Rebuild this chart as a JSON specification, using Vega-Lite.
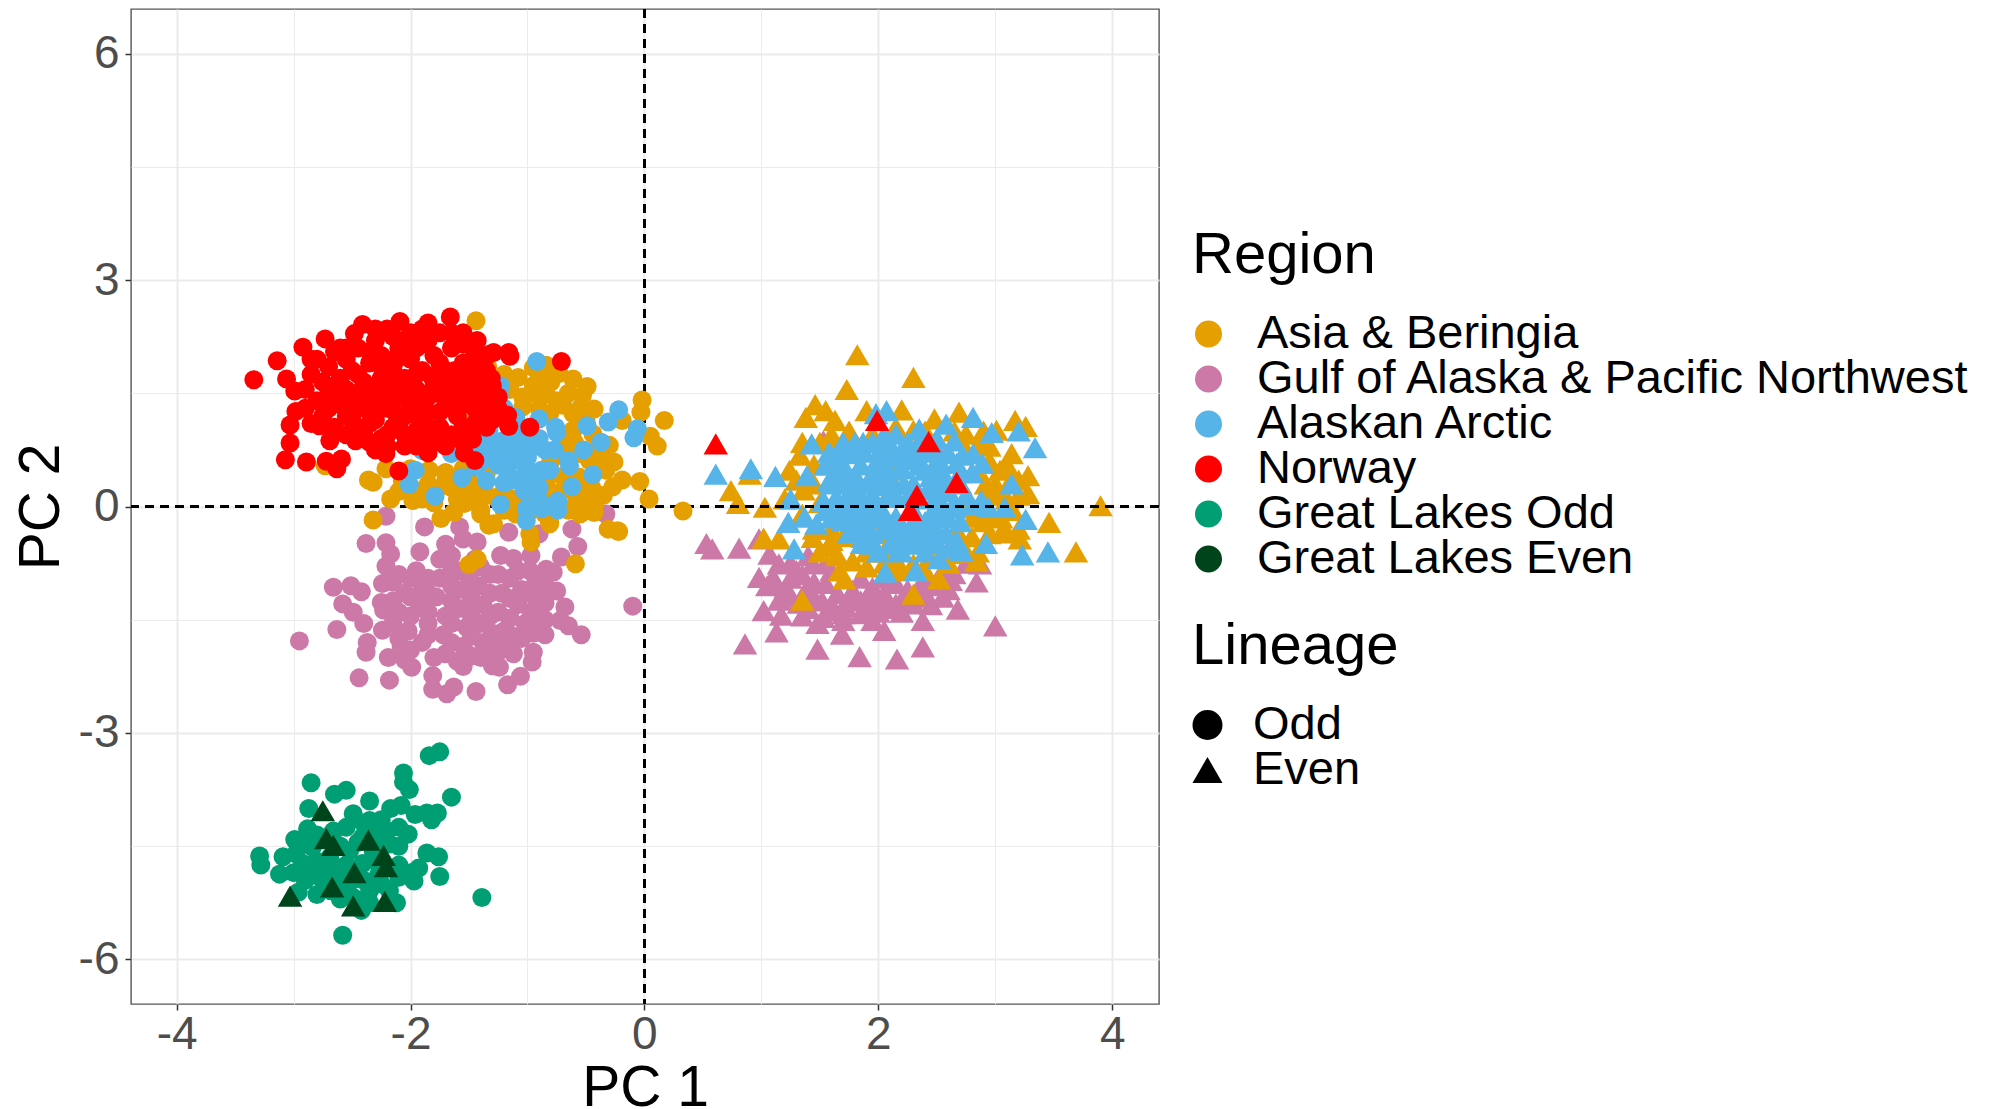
{"$schema":"https://vega.github.io/schema/vega-lite/v6.json","width":1028,"height":995,"autosize":{"type":"none"},"padding":{"left":131,"top":9,"right":831,"bottom":105},"background":"white","config":{"view":{"stroke":"#555555","strokeWidth":1.4},"font":"Liberation Sans"},
"data":{"values":[
{"x":0.53,"y":-0.49,"r":"G","l":"E"},{"x":0.58,"y":-0.56,"r":"G","l":"E"},{"x":0.81,"y":-0.55,"r":"G","l":"E"},{"x":0.98,"y":-0.43,"r":"G","l":"E"},{"x":0.86,"y":-1.82,"r":"G","l":"E"},{"x":1.13,"y":-1.66,"r":"G","l":"E"},{"x":1.02,"y":-1.38,"r":"G","l":"E"},{"x":1.17,"y":-1.44,"r":"G","l":"E"},{"x":1.48,"y":-1.89,"r":"G","l":"E"},{"x":1.48,"y":-1.55,"r":"G","l":"E"},{"x":1.69,"y":-1.69,"r":"G","l":"E"},{"x":1.84,"y":-1.99,"r":"G","l":"E"},{"x":2.16,"y":-2.02,"r":"G","l":"E"},{"x":2.38,"y":-1.86,"r":"G","l":"E"},{"x":2.05,"y":-1.64,"r":"G","l":"E"},{"x":2.38,"y":-1.51,"r":"G","l":"E"},{"x":2.68,"y":-1.36,"r":"G","l":"E"},{"x":3.0,"y":-1.58,"r":"G","l":"E"},{"x":2.84,"y":-1.0,"r":"G","l":"E"},{"x":2.65,"y":-0.89,"r":"G","l":"E"},{"x":2.42,"y":-1.2,"r":"G","l":"E"},{"x":0.98,"y":-0.94,"r":"G","l":"E"},{"x":1.1,"y":-0.94,"r":"G","l":"E"},{"x":1.07,"y":-0.63,"r":"G","l":"E"},{"x":1.21,"y":-1.07,"r":"G","l":"E"},{"x":1.15,"y":-1.24,"r":"G","l":"E"},{"x":1.53,"y":-1.47,"r":"G","l":"E"},{"x":1.58,"y":-1.38,"r":"G","l":"E"},{"x":1.72,"y":-1.33,"r":"G","l":"E"},{"x":1.9,"y":-1.38,"r":"G","l":"E"},{"x":2.01,"y":-1.24,"r":"G","l":"E"},{"x":2.15,"y":-1.29,"r":"G","l":"E"},{"x":2.3,"y":-1.29,"r":"G","l":"E"},{"x":1.44,"y":-0.76,"r":"G","l":"E"},{"x":1.3,"y":-0.85,"r":"G","l":"E"},{"x":1.55,"y":-1.02,"r":"G","l":"E"},{"x":1.78,"y":-1.11,"r":"G","l":"E"},{"x":1.95,"y":-1.07,"r":"G","l":"E"},{"x":2.15,"y":-1.02,"r":"G","l":"E"},{"x":2.38,"y":-0.98,"r":"G","l":"E"},{"x":1.53,"y":0.87,"r":"G","l":"E"},{"x":2.47,"y":0.83,"r":"G","l":"E"},{"x":2.87,"y":-0.76,"r":"G","l":"E"},{"x":1.95,"y":-1.51,"r":"G","l":"E"},{"x":1.7,"y":-1.51,"r":"G","l":"E"},{"x":1.38,"y":-1.11,"r":"G","l":"E"},{"x":1.15,"y":-0.76,"r":"G","l":"E"},
{"x":1.25,"y":-0.95,"r":"G","l":"E"},{"x":1.35,"y":-0.9,"r":"G","l":"E"},{"x":1.45,"y":-1.0,"r":"G","l":"E"},{"x":1.6,"y":-0.85,"r":"G","l":"E"},{"x":1.65,"y":-1.15,"r":"G","l":"E"},{"x":1.85,"y":-0.95,"r":"G","l":"E"},{"x":1.85,"y":-1.25,"r":"G","l":"E"},{"x":2.05,"y":-0.95,"r":"G","l":"E"},{"x":2.05,"y":-1.15,"r":"G","l":"E"},{"x":2.25,"y":-1.1,"r":"G","l":"E"},{"x":2.45,"y":-1.05,"r":"G","l":"E"},{"x":2.55,"y":-0.85,"r":"G","l":"E"},{"x":1.05,"y":-1.05,"r":"G","l":"E"},{"x":1.25,"y":-1.2,"r":"G","l":"E"},{"x":1.45,"y":-1.2,"r":"G","l":"E"},{"x":1.6,"y":-1.3,"r":"G","l":"E"},{"x":1.75,"y":-1.2,"r":"G","l":"E"},{"x":1.9,"y":-1.2,"r":"G","l":"E"},{"x":2.1,"y":-1.35,"r":"G","l":"E"},{"x":2.25,"y":-1.2,"r":"G","l":"E"},{"x":2.45,"y":-1.3,"r":"G","l":"E"},{"x":1.4,"y":-1.35,"r":"G","l":"E"},{"x":1.25,"y":-0.75,"r":"G","l":"E"},{"x":1.4,"y":-0.65,"r":"G","l":"E"},{"x":1.55,"y":-0.75,"r":"G","l":"E"},{"x":1.7,"y":-1.42,"r":"G","l":"E"},{"x":1.85,"y":-1.42,"r":"G","l":"E"},{"x":2.0,"y":-1.4,"r":"G","l":"E"},{"x":2.2,"y":-1.4,"r":"G","l":"E"},{"x":1.35,"y":-1.45,"r":"G","l":"E"},{"x":2.6,"y":-1.1,"r":"G","l":"E"},{"x":2.75,"y":-0.75,"r":"G","l":"E"},{"x":2.55,"y":-1.2,"r":"G","l":"E"},{"x":1.32,"y":-1.28,"r":"G","l":"E"},{"x":1.52,"y":-1.25,"r":"G","l":"E"},{"x":1.12,"y":-1.02,"r":"G","l":"E"},{"x":1.95,"y":-1.3,"r":"G","l":"E"},{"x":2.35,"y":-1.12,"r":"G","l":"E"},{"x":2.62,"y":-0.98,"r":"G","l":"E"},
{"x":1.82,"y":2.01,"r":"A","l":"E"},{"x":2.3,"y":1.71,"r":"A","l":"E"},{"x":1.73,"y":1.55,"r":"A","l":"E"},{"x":1.46,"y":1.35,"r":"A","l":"E"},{"x":1.55,"y":1.27,"r":"A","l":"E"},{"x":1.38,"y":1.18,"r":"A","l":"E"},{"x":1.63,"y":1.14,"r":"A","l":"E"},{"x":1.9,"y":1.27,"r":"A","l":"E"},{"x":2.2,"y":1.28,"r":"A","l":"E"},{"x":2.48,"y":1.16,"r":"A","l":"E"},{"x":2.69,"y":1.25,"r":"A","l":"E"},{"x":3.17,"y":1.14,"r":"A","l":"E"},{"x":3.26,"y":1.06,"r":"A","l":"E"},{"x":3.14,"y":0.7,"r":"A","l":"E"},{"x":3.28,"y":0.41,"r":"A","l":"E"},{"x":3.28,"y":0.17,"r":"A","l":"E"},{"x":3.9,"y":0.01,"r":"A","l":"E"},{"x":3.46,"y":-0.21,"r":"A","l":"E"},{"x":3.69,"y":-0.6,"r":"A","l":"E"},{"x":3.21,"y":-0.43,"r":"A","l":"E"},{"x":0.74,"y":0.21,"r":"A","l":"E"},{"x":0.8,"y":0.04,"r":"A","l":"E"},{"x":1.03,"y":-0.01,"r":"A","l":"E"},{"x":1.02,"y":-0.42,"r":"A","l":"E"},{"x":1.33,"y":0.68,"r":"A","l":"E"},{"x":1.24,"y":0.48,"r":"A","l":"E"},{"x":1.15,"y":-0.43,"r":"A","l":"E"},{"x":1.35,"y":-1.24,"r":"A","l":"E"},{"x":2.3,"y":-1.16,"r":"A","l":"E"},{"x":1.71,"y":-0.96,"r":"A","l":"E"},{"x":1.67,"y":-0.85,"r":"A","l":"E"},{"x":2.52,"y":-0.96,"r":"A","l":"E"},{"x":2.84,"y":-0.72,"r":"A","l":"E"},{"x":2.95,"y":-0.36,"r":"A","l":"E"},{"x":3.09,"y":-0.32,"r":"A","l":"E"},{"x":2.81,"y":-0.14,"r":"A","l":"E"},{"x":2.92,"y":0.3,"r":"A","l":"E"},{"x":3.04,"y":0.48,"r":"A","l":"E"},{"x":2.87,"y":0.83,"r":"A","l":"E"},{"x":2.75,"y":0.96,"r":"A","l":"E"},{"x":2.13,"y":0.48,"r":"A","l":"E"},{"x":1.75,"y":0.87,"r":"A","l":"E"},{"x":1.64,"y":0.83,"r":"A","l":"E"},{"x":1.55,"y":0.57,"r":"A","l":"E"},{"x":1.44,"y":-0.41,"r":"A","l":"E"},{"x":1.58,"y":-0.54,"r":"A","l":"E"},{"x":1.78,"y":-0.72,"r":"A","l":"E"},{"x":2.01,"y":-0.36,"r":"A","l":"E"},{"x":2.18,"y":-0.85,"r":"A","l":"E"},{"x":2.44,"y":-0.67,"r":"A","l":"E"},{"x":2.67,"y":-0.32,"r":"A","l":"E"},{"x":2.72,"y":-0.01,"r":"A","l":"E"},{"x":2.3,"y":-0.76,"r":"A","l":"E"},{"x":2.98,"y":-0.14,"r":"A","l":"E"},{"x":3.15,"y":0.39,"r":"A","l":"E"},{"x":3.01,"y":1.01,"r":"A","l":"E"},{"x":2.3,"y":1.01,"r":"A","l":"E"},{"x":0.9,"y":0.43,"r":"A","l":"E"},{"x":3.02,"y":0.16,"r":"A","l":"E"},{"x":2.62,"y":-0.62,"r":"A","l":"E"},{"x":1.36,"y":0.22,"r":"A","l":"E"},
{"x":1.45,"y":0.3,"r":"A","l":"E"},{"x":1.5,"y":0.05,"r":"A","l":"E"},{"x":1.35,"y":-0.1,"r":"A","l":"E"},{"x":1.3,"y":0.35,"r":"A","l":"E"},{"x":1.45,"y":0.55,"r":"A","l":"E"},{"x":1.2,"y":0.1,"r":"A","l":"E"},{"x":1.45,"y":-0.3,"r":"A","l":"E"},{"x":1.6,"y":-0.3,"r":"A","l":"E"},{"x":1.7,"y":-0.4,"r":"A","l":"E"},{"x":1.5,"y":-0.6,"r":"A","l":"E"},{"x":1.65,"y":-0.65,"r":"A","l":"E"},{"x":1.9,"y":-0.6,"r":"A","l":"E"},{"x":2.05,"y":-0.6,"r":"A","l":"E"},{"x":2.15,"y":-0.7,"r":"A","l":"E"},{"x":1.9,"y":-0.8,"r":"A","l":"E"},{"x":2.4,"y":-0.85,"r":"A","l":"E"},{"x":2.6,"y":-0.75,"r":"A","l":"E"},{"x":2.75,"y":-0.6,"r":"A","l":"E"},{"x":2.8,"y":-0.4,"r":"A","l":"E"},{"x":2.9,"y":-0.2,"r":"A","l":"E"},{"x":3.05,"y":-0.15,"r":"A","l":"E"},{"x":3.15,"y":-0.05,"r":"A","l":"E"},{"x":3.2,"y":0.15,"r":"A","l":"E"},{"x":3.1,"y":0.1,"r":"A","l":"E"},{"x":2.95,"y":0.15,"r":"A","l":"E"},{"x":3.0,"y":0.3,"r":"A","l":"E"},{"x":3.1,"y":0.55,"r":"A","l":"E"},{"x":3.2,"y":0.35,"r":"A","l":"E"},{"x":2.95,"y":0.6,"r":"A","l":"E"},{"x":2.85,"y":0.45,"r":"A","l":"E"},{"x":2.95,"y":0.8,"r":"A","l":"E"},{"x":2.75,"y":0.75,"r":"A","l":"E"},{"x":2.9,"y":1.0,"r":"A","l":"E"},{"x":2.65,"y":1.0,"r":"A","l":"E"},{"x":2.4,"y":1.0,"r":"A","l":"E"},{"x":2.15,"y":1.05,"r":"A","l":"E"},{"x":1.95,"y":0.95,"r":"A","l":"E"},{"x":1.75,"y":1.0,"r":"A","l":"E"},{"x":1.6,"y":0.95,"r":"A","l":"E"},{"x":1.5,"y":0.85,"r":"A","l":"E"},{"x":1.35,"y":0.85,"r":"A","l":"E"},{"x":2.45,"y":-0.5,"r":"A","l":"E"},{"x":2.05,"y":-0.75,"r":"A","l":"E"},{"x":1.6,"y":-0.45,"r":"A","l":"E"},{"x":2.85,"y":-0.6,"r":"A","l":"E"},{"x":3.05,"y":-0.35,"r":"A","l":"E"},{"x":3.2,"y":-0.3,"r":"A","l":"E"},
{"x":0.61,"y":0.43,"r":"K","l":"E"},{"x":0.91,"y":0.5,"r":"K","l":"E"},{"x":1.12,"y":0.4,"r":"K","l":"E"},{"x":1.39,"y":0.41,"r":"K","l":"E"},{"x":1.43,"y":0.83,"r":"K","l":"E"},{"x":2.07,"y":1.27,"r":"K","l":"E"},{"x":1.98,"y":1.23,"r":"K","l":"E"},{"x":2.58,"y":1.09,"r":"K","l":"E"},{"x":2.81,"y":1.18,"r":"K","l":"E"},{"x":2.97,"y":0.98,"r":"K","l":"E"},{"x":3.2,"y":1.0,"r":"K","l":"E"},{"x":3.34,"y":0.78,"r":"K","l":"E"},{"x":3.14,"y":0.3,"r":"K","l":"E"},{"x":3.26,"y":-0.17,"r":"K","l":"E"},{"x":3.45,"y":-0.6,"r":"K","l":"E"},{"x":3.23,"y":-0.64,"r":"K","l":"E"},{"x":2.92,"y":-0.49,"r":"K","l":"E"},{"x":2.32,"y":-0.85,"r":"K","l":"E"},{"x":2.06,"y":-0.87,"r":"K","l":"E"},{"x":2.52,"y":-0.69,"r":"K","l":"E"},{"x":2.71,"y":-0.58,"r":"K","l":"E"},{"x":1.28,"y":-0.56,"r":"K","l":"E"},{"x":1.23,"y":-0.21,"r":"K","l":"E"},{"x":1.37,"y":-0.14,"r":"K","l":"E"},{"x":1.47,"y":-0.23,"r":"K","l":"E"},{"x":1.25,"y":0.1,"r":"K","l":"E"},{"x":1.53,"y":0.08,"r":"K","l":"E"},{"x":1.86,"y":-0.49,"r":"K","l":"E"},{"x":2.18,"y":-0.58,"r":"K","l":"E"},{"x":3.08,"y":-0.01,"r":"K","l":"E"},{"x":2.94,"y":-0.01,"r":"K","l":"E"},{"x":2.88,"y":0.08,"r":"K","l":"E"},{"x":2.81,"y":0.7,"r":"K","l":"E"},{"x":2.89,"y":0.57,"r":"K","l":"E"},{"x":2.65,"y":0.87,"r":"K","l":"E"},{"x":2.35,"y":1.03,"r":"K","l":"E"},{"x":2.15,"y":0.96,"r":"K","l":"E"},{"x":1.87,"y":0.85,"r":"K","l":"E"},{"x":1.58,"y":0.72,"r":"K","l":"E"},{"x":1.78,"y":0.7,"r":"K","l":"E"},{"x":1.64,"y":0.48,"r":"K","l":"E"},{"x":1.58,"y":0.34,"r":"K","l":"E"},{"x":1.73,"y":0.12,"r":"K","l":"E"},{"x":1.7,"y":-0.19,"r":"K","l":"E"},{"x":1.84,"y":-0.27,"r":"K","l":"E"},{"x":1.9,"y":0.3,"r":"K","l":"E"},{"x":2.01,"y":0.48,"r":"K","l":"E"},{"x":2.07,"y":0.12,"r":"K","l":"E"},{"x":2.01,"y":0.74,"r":"K","l":"E"},{"x":2.24,"y":0.65,"r":"K","l":"E"},{"x":2.41,"y":0.74,"r":"K","l":"E"},{"x":2.4,"y":0.48,"r":"K","l":"E"},{"x":2.52,"y":0.3,"r":"K","l":"E"},{"x":2.3,"y":-0.05,"r":"K","l":"E"},{"x":2.47,"y":-0.14,"r":"K","l":"E"},{"x":2.15,"y":-0.14,"r":"K","l":"E"},{"x":2.24,"y":-0.41,"r":"K","l":"E"},{"x":2.35,"y":-0.36,"r":"K","l":"E"},{"x":2.58,"y":-0.36,"r":"K","l":"E"},{"x":2.67,"y":-0.45,"r":"K","l":"E"},{"x":1.9,"y":-0.05,"r":"K","l":"E"},{"x":2.67,"y":0.57,"r":"K","l":"E"},{"x":2.12,"y":0.3,"r":"K","l":"E"},{"x":1.73,"y":0.43,"r":"K","l":"E"},{"x":2.18,"y":-0.41,"r":"K","l":"E"},{"x":1.87,"y":-0.41,"r":"K","l":"E"},{"x":1.64,"y":0.12,"r":"K","l":"E"},{"x":2.52,"y":0.61,"r":"K","l":"E"},
{"x":1.55,"y":0.55,"r":"K","l":"E"},{"x":1.6,"y":0.3,"r":"K","l":"E"},{"x":1.7,"y":0.55,"r":"K","l":"E"},{"x":1.75,"y":0.3,"r":"K","l":"E"},{"x":1.8,"y":0.1,"r":"K","l":"E"},{"x":1.85,"y":0.55,"r":"K","l":"E"},{"x":1.95,"y":0.4,"r":"K","l":"E"},{"x":1.95,"y":0.15,"r":"K","l":"E"},{"x":2.05,"y":0.6,"r":"K","l":"E"},{"x":2.1,"y":0.4,"r":"K","l":"E"},{"x":2.15,"y":0.15,"r":"K","l":"E"},{"x":2.2,"y":0.5,"r":"K","l":"E"},{"x":2.2,"y":0.75,"r":"K","l":"E"},{"x":2.3,"y":0.3,"r":"K","l":"E"},{"x":2.35,"y":0.55,"r":"K","l":"E"},{"x":2.35,"y":0.1,"r":"K","l":"E"},{"x":2.45,"y":0.4,"r":"K","l":"E"},{"x":2.5,"y":0.15,"r":"K","l":"E"},{"x":2.55,"y":0.45,"r":"K","l":"E"},{"x":2.6,"y":0.2,"r":"K","l":"E"},{"x":2.65,"y":0.05,"r":"K","l":"E"},{"x":2.6,"y":0.7,"r":"K","l":"E"},{"x":2.7,"y":0.3,"r":"K","l":"E"},{"x":2.75,"y":0.15,"r":"K","l":"E"},{"x":2.8,"y":0.45,"r":"K","l":"E"},{"x":1.55,"y":-0.05,"r":"K","l":"E"},{"x":1.6,"y":-0.15,"r":"K","l":"E"},{"x":1.75,"y":-0.05,"r":"K","l":"E"},{"x":1.8,"y":-0.2,"r":"K","l":"E"},{"x":1.95,"y":-0.15,"r":"K","l":"E"},{"x":1.95,"y":-0.35,"r":"K","l":"E"},{"x":2.05,"y":-0.1,"r":"K","l":"E"},{"x":2.05,"y":-0.3,"r":"K","l":"E"},{"x":2.1,"y":-0.5,"r":"K","l":"E"},{"x":2.2,"y":-0.25,"r":"K","l":"E"},{"x":2.3,"y":-0.2,"r":"K","l":"E"},{"x":2.4,"y":-0.2,"r":"K","l":"E"},{"x":2.4,"y":-0.45,"r":"K","l":"E"},{"x":2.5,"y":-0.3,"r":"K","l":"E"},{"x":2.55,"y":-0.05,"r":"K","l":"E"},{"x":2.6,"y":-0.15,"r":"K","l":"E"},{"x":2.7,"y":-0.2,"r":"K","l":"E"},{"x":2.3,"y":-0.5,"r":"K","l":"E"},{"x":1.8,"y":0.85,"r":"K","l":"E"},{"x":1.95,"y":0.85,"r":"K","l":"E"},{"x":2.05,"y":0.95,"r":"K","l":"E"},{"x":2.25,"y":0.85,"r":"K","l":"E"},{"x":2.35,"y":0.85,"r":"K","l":"E"},{"x":2.5,"y":0.9,"r":"K","l":"E"},{"x":1.7,"y":0.85,"r":"K","l":"E"},{"x":1.65,"y":0.65,"r":"K","l":"E"},{"x":2.4,"y":-0.6,"r":"K","l":"E"},{"x":2.6,"y":-0.55,"r":"K","l":"E"},{"x":2.2,"y":-0.6,"r":"K","l":"E"},{"x":1.75,"y":-0.35,"r":"K","l":"E"},{"x":1.95,"y":-0.5,"r":"K","l":"E"},{"x":2.0,"y":-0.6,"r":"K","l":"E"},
{"x":1.65,"y":0.38,"r":"K","l":"E"},{"x":1.8,"y":0.42,"r":"K","l":"E"},{"x":1.82,"y":0.22,"r":"K","l":"E"},{"x":1.98,"y":0.58,"r":"K","l":"E"},{"x":2.03,"y":0.28,"r":"K","l":"E"},{"x":2.12,"y":0.65,"r":"K","l":"E"},{"x":2.22,"y":0.3,"r":"K","l":"E"},{"x":2.25,"y":0.12,"r":"K","l":"E"},{"x":2.28,"y":0.62,"r":"K","l":"E"},{"x":2.42,"y":0.22,"r":"K","l":"E"},{"x":2.48,"y":0.55,"r":"K","l":"E"},{"x":2.58,"y":0.32,"r":"K","l":"E"},{"x":2.7,"y":0.45,"r":"K","l":"E"},{"x":2.72,"y":0.68,"r":"K","l":"E"},{"x":1.68,"y":-0.02,"r":"K","l":"E"},{"x":1.85,"y":0.02,"r":"K","l":"E"},{"x":2.0,"y":-0.02,"r":"K","l":"E"},{"x":2.12,"y":-0.22,"r":"K","l":"E"},{"x":2.28,"y":-0.32,"r":"K","l":"E"},{"x":2.42,"y":-0.32,"r":"K","l":"E"},{"x":2.5,"y":-0.48,"r":"K","l":"E"},{"x":2.48,"y":-0.02,"r":"K","l":"E"},{"x":1.88,"y":-0.22,"r":"K","l":"E"},{"x":1.72,"y":0.72,"r":"K","l":"E"},{"x":1.88,"y":0.72,"r":"K","l":"E"},{"x":2.1,"y":0.82,"r":"K","l":"E"},{"x":2.32,"y":0.72,"r":"K","l":"E"},{"x":2.5,"y":0.72,"r":"K","l":"E"},{"x":2.65,"y":-0.02,"r":"K","l":"E"},{"x":2.8,"y":0.02,"r":"K","l":"E"},
{"x":0.61,"y":0.83,"r":"N","l":"E"},{"x":1.99,"y":1.14,"r":"N","l":"E"},{"x":2.43,"y":0.86,"r":"N","l":"E"},{"x":2.67,"y":0.32,"r":"N","l":"E"},{"x":2.33,"y":0.15,"r":"N","l":"E"},{"x":2.27,"y":-0.05,"r":"N","l":"E"},
{"x":-2.95,"y":-1.78,"r":"G","l":"O"},{"x":-2.63,"y":-1.63,"r":"G","l":"O"},{"x":-2.66,"y":-1.07,"r":"G","l":"O"},{"x":-2.51,"y":-1.05,"r":"G","l":"O"},{"x":-2.42,"y":-1.13,"r":"G","l":"O"},{"x":-2.58,"y":-1.29,"r":"G","l":"O"},{"x":-2.49,"y":-1.4,"r":"G","l":"O"},{"x":-2.4,"y":-1.55,"r":"G","l":"O"},{"x":-2.37,"y":-1.8,"r":"G","l":"O"},{"x":-2.38,"y":-1.93,"r":"G","l":"O"},{"x":-2.44,"y":-2.27,"r":"G","l":"O"},{"x":-2.18,"y":-2.3,"r":"G","l":"O"},{"x":-2.19,"y":-2.0,"r":"G","l":"O"},{"x":-2.05,"y":-2.03,"r":"G","l":"O"},{"x":-1.99,"y":-2.13,"r":"G","l":"O"},{"x":-1.81,"y":-2.24,"r":"G","l":"O"},{"x":-1.81,"y":-2.42,"r":"G","l":"O"},{"x":-1.69,"y":-2.48,"r":"G","l":"O"},{"x":-1.63,"y":-2.39,"r":"G","l":"O"},{"x":-1.44,"y":-2.45,"r":"G","l":"O"},{"x":-1.17,"y":-2.36,"r":"G","l":"O"},{"x":-1.06,"y":-2.25,"r":"G","l":"O"},{"x":-0.96,"y":-2.06,"r":"G","l":"O"},{"x":-0.95,"y":-1.93,"r":"G","l":"O"},{"x":-1.24,"y":-2.13,"r":"G","l":"O"},{"x":-1.3,"y":-2.11,"r":"G","l":"O"},{"x":-1.55,"y":-2.12,"r":"G","l":"O"},{"x":-1.27,"y":-1.97,"r":"G","l":"O"},{"x":-0.54,"y":-1.7,"r":"G","l":"O"},{"x":-0.65,"y":-1.58,"r":"G","l":"O"},{"x":-0.72,"y":-1.51,"r":"G","l":"O"},{"x":-0.68,"y":-1.33,"r":"G","l":"O"},{"x":-0.75,"y":-1.12,"r":"G","l":"O"},{"x":-0.78,"y":-0.87,"r":"G","l":"O"},{"x":-0.84,"y":-0.83,"r":"G","l":"O"},{"x":-0.71,"y":-0.67,"r":"G","l":"O"},{"x":-0.57,"y":-0.53,"r":"G","l":"O"},{"x":-0.62,"y":-0.3,"r":"G","l":"O"},{"x":-0.33,"y":-0.1,"r":"G","l":"O"},{"x":-2.21,"y":-0.13,"r":"G","l":"O"},{"x":-2.38,"y":-0.49,"r":"G","l":"O"},{"x":-2.21,"y":-0.48,"r":"G","l":"O"},{"x":-2.17,"y":-0.63,"r":"G","l":"O"},{"x":-2.21,"y":-0.79,"r":"G","l":"O"},{"x":-2.24,"y":-1.02,"r":"G","l":"O"},{"x":-2.25,"y":-1.27,"r":"G","l":"O"},{"x":-2.23,"y":-1.37,"r":"G","l":"O"},{"x":-2.24,"y":-1.64,"r":"G","l":"O"},{"x":-1.88,"y":-0.27,"r":"G","l":"O"},{"x":-1.58,"y":-0.27,"r":"G","l":"O"},{"x":-1.55,"y":-0.43,"r":"G","l":"O"},{"x":-1.43,"y":-0.47,"r":"G","l":"O"},{"x":-1.16,"y":-0.34,"r":"G","l":"O"},{"x":-0.9,"y":-0.36,"r":"G","l":"O"},{"x":-1.92,"y":-0.6,"r":"G","l":"O"},{"x":-1.65,"y":-0.65,"r":"G","l":"O"},{"x":-1.23,"y":-0.65,"r":"G","l":"O"},{"x":-1.12,"y":-0.69,"r":"G","l":"O"},{"x":-0.97,"y":-0.65,"r":"G","l":"O"},{"x":-2.1,"y":-0.9,"r":"G","l":"O"},{"x":-2.05,"y":-1.15,"r":"G","l":"O"},{"x":-2.1,"y":-1.4,"r":"G","l":"O"},{"x":-2.02,"y":-1.65,"r":"G","l":"O"},{"x":-1.95,"y":-0.85,"r":"G","l":"O"},{"x":-1.9,"y":-1.05,"r":"G","l":"O"},{"x":-1.92,"y":-1.3,"r":"G","l":"O"},{"x":-1.85,"y":-1.55,"r":"G","l":"O"},{"x":-1.9,"y":-1.8,"r":"G","l":"O"},{"x":-1.75,"y":-0.95,"r":"G","l":"O"},{"x":-1.78,"y":-1.2,"r":"G","l":"O"},{"x":-1.7,"y":-1.45,"r":"G","l":"O"},{"x":-1.72,"y":-1.7,"r":"G","l":"O"},{"x":-1.7,"y":-1.95,"r":"G","l":"O"},{"x":-1.6,"y":-0.85,"r":"G","l":"O"},{"x":-1.55,"y":-1.1,"r":"G","l":"O"},{"x":-1.58,"y":-1.35,"r":"G","l":"O"},{"x":-1.52,"y":-1.6,"r":"G","l":"O"},{"x":-1.55,"y":-1.85,"r":"G","l":"O"},{"x":-1.4,"y":-0.8,"r":"G","l":"O"},{"x":-1.42,"y":-1.05,"r":"G","l":"O"},{"x":-1.38,"y":-1.3,"r":"G","l":"O"},{"x":-1.4,"y":-1.55,"r":"G","l":"O"},{"x":-1.38,"y":-1.8,"r":"G","l":"O"},{"x":-1.4,"y":-2.0,"r":"G","l":"O"},{"x":-1.25,"y":-0.9,"r":"G","l":"O"},{"x":-1.22,"y":-1.15,"r":"G","l":"O"},{"x":-1.25,"y":-1.4,"r":"G","l":"O"},{"x":-1.2,"y":-1.65,"r":"G","l":"O"},{"x":-1.22,"y":-1.85,"r":"G","l":"O"},{"x":-1.08,"y":-0.85,"r":"G","l":"O"},{"x":-1.05,"y":-1.1,"r":"G","l":"O"},{"x":-1.08,"y":-1.3,"r":"G","l":"O"},{"x":-1.02,"y":-1.55,"r":"G","l":"O"},{"x":-1.05,"y":-1.75,"r":"G","l":"O"},{"x":-0.93,"y":-1.0,"r":"G","l":"O"},{"x":-0.92,"y":-1.25,"r":"G","l":"O"},{"x":-0.9,"y":-1.45,"r":"G","l":"O"},{"x":-0.95,"y":-1.68,"r":"G","l":"O"},{"x":-2.08,"y":-1.85,"r":"G","l":"O"},{"x":-0.1,"y":-1.32,"r":"G","l":"O"},
{"x":-2.15,"y":-1.0,"r":"G","l":"O"},{"x":-2.15,"y":-1.25,"r":"G","l":"O"},{"x":-2.15,"y":-1.55,"r":"G","l":"O"},{"x":-2.1,"y":-1.75,"r":"G","l":"O"},{"x":-2.0,"y":-0.95,"r":"G","l":"O"},{"x":-2.0,"y":-1.2,"r":"G","l":"O"},{"x":-2.0,"y":-1.45,"r":"G","l":"O"},{"x":-2.0,"y":-1.9,"r":"G","l":"O"},{"x":-1.85,"y":-0.95,"r":"G","l":"O"},{"x":-1.85,"y":-1.15,"r":"G","l":"O"},{"x":-1.85,"y":-1.4,"r":"G","l":"O"},{"x":-1.85,"y":-1.7,"r":"G","l":"O"},{"x":-1.8,"y":-2.0,"r":"G","l":"O"},{"x":-1.65,"y":-0.85,"r":"G","l":"O"},{"x":-1.65,"y":-1.05,"r":"G","l":"O"},{"x":-1.65,"y":-1.25,"r":"G","l":"O"},{"x":-1.65,"y":-1.55,"r":"G","l":"O"},{"x":-1.65,"y":-1.8,"r":"G","l":"O"},{"x":-1.6,"y":-2.05,"r":"G","l":"O"},{"x":-1.5,"y":-0.95,"r":"G","l":"O"},{"x":-1.48,"y":-1.22,"r":"G","l":"O"},{"x":-1.48,"y":-1.45,"r":"G","l":"O"},{"x":-1.48,"y":-1.72,"r":"G","l":"O"},{"x":-1.48,"y":-1.98,"r":"G","l":"O"},{"x":-1.32,"y":-0.9,"r":"G","l":"O"},{"x":-1.32,"y":-1.15,"r":"G","l":"O"},{"x":-1.32,"y":-1.45,"r":"G","l":"O"},{"x":-1.3,"y":-1.68,"r":"G","l":"O"},{"x":-1.3,"y":-1.9,"r":"G","l":"O"},{"x":-1.15,"y":-0.95,"r":"G","l":"O"},{"x":-1.15,"y":-1.22,"r":"G","l":"O"},{"x":-1.15,"y":-1.48,"r":"G","l":"O"},{"x":-1.12,"y":-1.72,"r":"G","l":"O"},{"x":-1.12,"y":-1.95,"r":"G","l":"O"},{"x":-0.98,"y":-0.85,"r":"G","l":"O"},{"x":-0.98,"y":-1.15,"r":"G","l":"O"},{"x":-0.97,"y":-1.4,"r":"G","l":"O"},{"x":-1.0,"y":-1.62,"r":"G","l":"O"},{"x":-1.7,"y":-0.5,"r":"G","l":"O"},{"x":-1.45,"y":-0.7,"r":"G","l":"O"},{"x":-1.75,"y":-0.7,"r":"G","l":"O"},{"x":-0.85,"y":-1.05,"r":"G","l":"O"},{"x":-0.85,"y":-1.28,"r":"G","l":"O"},{"x":-0.85,"y":-1.5,"r":"G","l":"O"},{"x":-0.85,"y":-1.7,"r":"G","l":"O"},
{"x":-1.44,"y":2.46,"r":"A","l":"O"},{"x":-0.02,"y":1.41,"r":"A","l":"O"},{"x":-0.03,"y":1.25,"r":"A","l":"O"},{"x":0.17,"y":1.14,"r":"A","l":"O"},{"x":0.05,"y":0.93,"r":"A","l":"O"},{"x":0.11,"y":0.8,"r":"A","l":"O"},{"x":-0.04,"y":0.33,"r":"A","l":"O"},{"x":-0.19,"y":0.35,"r":"A","l":"O"},{"x":0.04,"y":0.1,"r":"A","l":"O"},{"x":0.33,"y":-0.06,"r":"A","l":"O"},{"x":-0.22,"y":-0.33,"r":"A","l":"O"},{"x":-0.31,"y":-0.3,"r":"A","l":"O"},{"x":-0.27,"y":0.26,"r":"A","l":"O"},{"x":-0.43,"y":0.01,"r":"A","l":"O"},{"x":-0.51,"y":0.04,"r":"A","l":"O"},{"x":-2.32,"y":-0.18,"r":"A","l":"O"},{"x":-2.36,"y":0.35,"r":"A","l":"O"},{"x":-2.32,"y":0.32,"r":"A","l":"O"},{"x":-2.17,"y":0.1,"r":"A","l":"O"},{"x":-1.98,"y":0.08,"r":"A","l":"O"},{"x":-2.21,"y":0.5,"r":"A","l":"O"},{"x":-2.73,"y":0.54,"r":"A","l":"O"},{"x":-1.74,"y":-0.16,"r":"A","l":"O"},{"x":-1.63,"y":-0.08,"r":"A","l":"O"},{"x":-1.54,"y":0.04,"r":"A","l":"O"},{"x":-1.33,"y":-0.25,"r":"A","l":"O"},{"x":-1.29,"y":-0.23,"r":"A","l":"O"},{"x":-0.98,"y":-0.36,"r":"A","l":"O"},{"x":-0.97,"y":-0.47,"r":"A","l":"O"},{"x":-0.81,"y":-0.21,"r":"A","l":"O"},{"x":-0.43,"y":-0.08,"r":"A","l":"O"},{"x":-0.23,"y":-0.32,"r":"A","l":"O"},{"x":-1.5,"y":-0.77,"r":"A","l":"O"},{"x":-1.43,"y":-0.7,"r":"A","l":"O"},{"x":-0.59,"y":-0.76,"r":"A","l":"O"},{"x":-0.95,"y":1.84,"r":"A","l":"O"},{"x":-0.84,"y":1.87,"r":"A","l":"O"},{"x":-0.73,"y":1.76,"r":"A","l":"O"},{"x":-0.61,"y":1.69,"r":"A","l":"O"},{"x":-0.49,"y":1.59,"r":"A","l":"O"},{"x":-0.53,"y":1.47,"r":"A","l":"O"},{"x":-1.08,"y":1.71,"r":"A","l":"O"},{"x":-0.95,"y":1.6,"r":"A","l":"O"},{"x":-0.84,"y":1.49,"r":"A","l":"O"},{"x":-1.04,"y":1.45,"r":"A","l":"O"},{"x":-0.7,"y":1.34,"r":"A","l":"O"},{"x":-0.43,"y":1.29,"r":"A","l":"O"},{"x":-0.19,"y":1.14,"r":"A","l":"O"},{"x":-0.3,"y":0.81,"r":"A","l":"O"},{"x":-0.26,"y":0.59,"r":"A","l":"O"},{"x":-0.33,"y":0.48,"r":"A","l":"O"},{"x":-0.61,"y":1.01,"r":"A","l":"O"},{"x":-0.44,"y":0.96,"r":"A","l":"O"},{"x":-0.7,"y":0.87,"r":"A","l":"O"},{"x":-0.47,"y":0.61,"r":"A","l":"O"},{"x":-0.56,"y":0.39,"r":"A","l":"O"},{"x":-0.58,"y":0.12,"r":"A","l":"O"},{"x":-0.7,"y":0.21,"r":"A","l":"O"},{"x":-0.84,"y":0.3,"r":"A","l":"O"},{"x":-0.98,"y":0.12,"r":"A","l":"O"},{"x":-1.13,"y":-0.01,"r":"A","l":"O"},{"x":-1.27,"y":0.12,"r":"A","l":"O"},{"x":-1.44,"y":0.08,"r":"A","l":"O"},{"x":-1.55,"y":0.21,"r":"A","l":"O"},{"x":-1.7,"y":0.34,"r":"A","l":"O"},{"x":-1.84,"y":0.48,"r":"A","l":"O"},{"x":-1.78,"y":0.21,"r":"A","l":"O"},{"x":-2.07,"y":0.34,"r":"A","l":"O"},{"x":-1.95,"y":0.21,"r":"A","l":"O"},{"x":-1.5,"y":0.34,"r":"A","l":"O"},{"x":-1.55,"y":1.23,"r":"A","l":"O"},{"x":-1.34,"y":1.85,"r":"A","l":"O"},{"x":-0.81,"y":-0.23,"r":"A","l":"O"},{"x":-1.04,"y":1.32,"r":"A","l":"O"},{"x":-0.81,"y":1.23,"r":"A","l":"O"},{"x":-0.61,"y":1.23,"r":"A","l":"O"},{"x":-1.1,"y":-0.1,"r":"A","l":"O"},{"x":-1.4,"y":-0.05,"r":"A","l":"O"},{"x":-0.6,"y":0.0,"r":"A","l":"O"},{"x":-0.85,"y":0.08,"r":"A","l":"O"},
{"x":-0.9,"y":1.7,"r":"A","l":"O"},{"x":-0.8,"y":1.65,"r":"A","l":"O"},{"x":-0.65,"y":1.5,"r":"A","l":"O"},{"x":-0.75,"y":1.4,"r":"A","l":"O"},{"x":-0.9,"y":1.3,"r":"A","l":"O"},{"x":-0.55,"y":1.3,"r":"A","l":"O"},{"x":-0.5,"y":1.15,"r":"A","l":"O"},{"x":-0.6,"y":0.85,"r":"A","l":"O"},{"x":-0.55,"y":0.7,"r":"A","l":"O"},{"x":-0.7,"y":0.7,"r":"A","l":"O"},{"x":-0.8,"y":0.6,"r":"A","l":"O"},{"x":-0.4,"y":0.75,"r":"A","l":"O"},{"x":-0.35,"y":0.6,"r":"A","l":"O"},{"x":-0.4,"y":0.5,"r":"A","l":"O"},{"x":-0.45,"y":0.25,"r":"A","l":"O"},{"x":-0.35,"y":0.15,"r":"A","l":"O"},{"x":-0.5,"y":0.2,"r":"A","l":"O"},{"x":-0.7,"y":0.4,"r":"A","l":"O"},{"x":-0.75,"y":0.1,"r":"A","l":"O"},{"x":-0.95,"y":0.3,"r":"A","l":"O"},{"x":-1.05,"y":0.35,"r":"A","l":"O"},{"x":-1.1,"y":0.1,"r":"A","l":"O"},{"x":-1.2,"y":0.2,"r":"A","l":"O"},{"x":-1.35,"y":0.15,"r":"A","l":"O"},{"x":-1.45,"y":0.25,"r":"A","l":"O"},{"x":-1.6,"y":0.1,"r":"A","l":"O"},{"x":-1.65,"y":0.25,"r":"A","l":"O"},{"x":-1.85,"y":0.3,"r":"A","l":"O"},{"x":-1.8,"y":0.05,"r":"A","l":"O"},{"x":-1.9,"y":0.1,"r":"A","l":"O"},{"x":-1.7,"y":0.45,"r":"A","l":"O"},{"x":-1.55,"y":0.5,"r":"A","l":"O"},{"x":-1.4,"y":-0.1,"r":"A","l":"O"},{"x":-1.2,"y":-0.05,"r":"A","l":"O"},{"x":-1.0,"y":-0.1,"r":"A","l":"O"},{"x":-0.65,"y":-0.05,"r":"A","l":"O"},{"x":-0.55,"y":-0.1,"r":"A","l":"O"},{"x":-0.85,"y":-0.1,"r":"A","l":"O"},{"x":-1.35,"y":0.45,"r":"A","l":"O"},{"x":-2.1,"y":0.2,"r":"A","l":"O"},{"x":-2.0,"y":0.5,"r":"A","l":"O"},{"x":-0.9,"y":1.45,"r":"A","l":"O"},{"x":-1.15,"y":1.55,"r":"A","l":"O"},{"x":-1.2,"y":1.75,"r":"A","l":"O"},
{"x":-0.92,"y":1.92,"r":"K","l":"O"},{"x":-1.24,"y":1.47,"r":"K","l":"O"},{"x":-1.23,"y":1.6,"r":"K","l":"O"},{"x":-1.35,"y":2.02,"r":"K","l":"O"},{"x":-0.22,"y":1.28,"r":"K","l":"O"},{"x":-0.31,"y":1.12,"r":"K","l":"O"},{"x":-0.49,"y":1.07,"r":"K","l":"O"},{"x":-0.06,"y":1.03,"r":"K","l":"O"},{"x":-0.09,"y":0.91,"r":"K","l":"O"},{"x":-0.76,"y":1.05,"r":"K","l":"O"},{"x":-0.75,"y":0.98,"r":"K","l":"O"},{"x":-0.9,"y":1.16,"r":"K","l":"O"},{"x":-1.1,"y":1.18,"r":"K","l":"O"},{"x":-0.37,"y":0.85,"r":"K","l":"O"},{"x":-0.52,"y":0.75,"r":"K","l":"O"},{"x":-0.65,"y":0.61,"r":"K","l":"O"},{"x":-0.64,"y":0.54,"r":"K","l":"O"},{"x":-0.44,"y":0.42,"r":"K","l":"O"},{"x":-0.62,"y":0.26,"r":"K","l":"O"},{"x":-0.77,"y":0.75,"r":"K","l":"O"},{"x":-0.96,"y":0.78,"r":"K","l":"O"},{"x":-0.81,"y":0.48,"r":"K","l":"O"},{"x":-0.88,"y":0.48,"r":"K","l":"O"},{"x":-1.01,"y":0.5,"r":"K","l":"O"},{"x":-1.17,"y":0.45,"r":"K","l":"O"},{"x":-1.2,"y":0.31,"r":"K","l":"O"},{"x":-1.35,"y":0.34,"r":"K","l":"O"},{"x":-1.56,"y":0.38,"r":"K","l":"O"},{"x":-1.03,"y":0.21,"r":"K","l":"O"},{"x":-0.9,"y":0.08,"r":"K","l":"O"},{"x":-0.74,"y":0.07,"r":"K","l":"O"},{"x":-0.74,"y":-0.05,"r":"K","l":"O"},{"x":-0.88,"y":-0.03,"r":"K","l":"O"},{"x":-1.01,"y":-0.19,"r":"K","l":"O"},{"x":-1.01,"y":-0.03,"r":"K","l":"O"},{"x":-1.23,"y":0.03,"r":"K","l":"O"},{"x":-1.79,"y":0.14,"r":"K","l":"O"},{"x":-2.01,"y":0.29,"r":"K","l":"O"},{"x":-1.96,"y":0.48,"r":"K","l":"O"},{"x":-1.65,"y":0.7,"r":"K","l":"O"},{"x":-1.33,"y":1.01,"r":"K","l":"O"},{"x":-1.21,"y":0.87,"r":"K","l":"O"},{"x":-1.1,"y":0.74,"r":"K","l":"O"},{"x":-1.27,"y":0.74,"r":"K","l":"O"},{"x":-1.38,"y":0.61,"r":"K","l":"O"},{"x":-1.44,"y":0.52,"r":"K","l":"O"},{"x":-1.17,"y":1.09,"r":"K","l":"O"},{"x":-1.04,"y":0.96,"r":"K","l":"O"},{"x":-1.33,"y":0.65,"r":"K","l":"O"},{"x":-1.5,"y":1.01,"r":"K","l":"O"},{"x":-1.9,"y":0.74,"r":"K","l":"O"},{"x":-1.0,"y":0.65,"r":"K","l":"O"},
{"x":-1.4,"y":0.9,"r":"K","l":"O"},{"x":-1.3,"y":0.85,"r":"K","l":"O"},{"x":-1.15,"y":0.95,"r":"K","l":"O"},{"x":-1.1,"y":0.95,"r":"K","l":"O"},{"x":-1.0,"y":0.85,"r":"K","l":"O"},{"x":-0.9,"y":0.9,"r":"K","l":"O"},{"x":-0.85,"y":0.75,"r":"K","l":"O"},{"x":-1.15,"y":0.6,"r":"K","l":"O"},{"x":-1.05,"y":0.6,"r":"K","l":"O"},{"x":-1.25,"y":0.55,"r":"K","l":"O"},{"x":-1.4,"y":0.75,"r":"K","l":"O"},{"x":-1.55,"y":0.9,"r":"K","l":"O"},{"x":-1.6,"y":0.8,"r":"K","l":"O"},{"x":-0.95,"y":0.35,"r":"K","l":"O"},{"x":-1.1,"y":0.35,"r":"K","l":"O"},{"x":-0.9,"y":0.25,"r":"K","l":"O"},{"x":-0.8,"y":0.0,"r":"K","l":"O"},{"x":-1.45,"y":0.75,"r":"K","l":"O"},{"x":-1.2,"y":1.3,"r":"K","l":"O"},{"x":-1.15,"y":0.75,"r":"K","l":"O"},
{"x":-3.34,"y":1.68,"r":"N","l":"O"},{"x":-3.14,"y":1.93,"r":"N","l":"O"},{"x":-2.92,"y":2.11,"r":"N","l":"O"},{"x":-2.73,"y":2.22,"r":"N","l":"O"},{"x":-2.48,"y":2.29,"r":"N","l":"O"},{"x":-2.41,"y":2.41,"r":"N","l":"O"},{"x":-2.09,"y":2.45,"r":"N","l":"O"},{"x":-1.85,"y":2.43,"r":"N","l":"O"},{"x":-1.66,"y":2.51,"r":"N","l":"O"},{"x":-1.43,"y":2.2,"r":"N","l":"O"},{"x":-1.29,"y":2.04,"r":"N","l":"O"},{"x":-1.16,"y":2.04,"r":"N","l":"O"},{"x":-1.15,"y":1.99,"r":"N","l":"O"},{"x":-0.71,"y":1.92,"r":"N","l":"O"},{"x":-0.98,"y":1.05,"r":"N","l":"O"},{"x":-1.16,"y":1.06,"r":"N","l":"O"},{"x":-1.17,"y":1.21,"r":"N","l":"O"},{"x":-1.31,"y":1.7,"r":"N","l":"O"},{"x":-3.06,"y":1.69,"r":"N","l":"O"},{"x":-2.99,"y":1.53,"r":"N","l":"O"},{"x":-2.98,"y":1.26,"r":"N","l":"O"},{"x":-3.03,"y":1.08,"r":"N","l":"O"},{"x":-3.03,"y":0.84,"r":"N","l":"O"},{"x":-3.07,"y":0.62,"r":"N","l":"O"},{"x":-2.89,"y":0.59,"r":"N","l":"O"},{"x":-2.72,"y":0.6,"r":"N","l":"O"},{"x":-2.59,"y":0.63,"r":"N","l":"O"},{"x":-2.63,"y":0.5,"r":"N","l":"O"},{"x":-2.1,"y":0.47,"r":"N","l":"O"},{"x":-1.85,"y":0.71,"r":"N","l":"O"},{"x":-1.45,"y":0.61,"r":"N","l":"O"},{"x":-1.54,"y":0.71,"r":"N","l":"O"},{"x":-1.47,"y":0.89,"r":"N","l":"O"},{"x":-2.69,"y":0.87,"r":"N","l":"O"},{"x":-2.78,"y":1.07,"r":"N","l":"O"},{"x":-2.47,"y":0.87,"r":"N","l":"O"},{"x":-2.3,"y":0.75,"r":"N","l":"O"},{"x":-2.21,"y":0.7,"r":"N","l":"O"},
{"x":-2.9,"y":1.55,"r":"N","l":"O"},{"x":-2.85,"y":1.75,"r":"N","l":"O"},{"x":-2.8,"y":1.4,"r":"N","l":"O"},{"x":-2.8,"y":1.95,"r":"N","l":"O"},{"x":-2.75,"y":1.2,"r":"N","l":"O"},{"x":-2.7,"y":1.55,"r":"N","l":"O"},{"x":-2.7,"y":1.85,"r":"N","l":"O"},{"x":-2.65,"y":1.05,"r":"N","l":"O"},{"x":-2.65,"y":2.05,"r":"N","l":"O"},{"x":-2.6,"y":1.35,"r":"N","l":"O"},{"x":-2.6,"y":1.7,"r":"N","l":"O"},{"x":-2.55,"y":0.95,"r":"N","l":"O"},{"x":-2.55,"y":1.95,"r":"N","l":"O"},{"x":-2.5,"y":1.15,"r":"N","l":"O"},{"x":-2.5,"y":1.5,"r":"N","l":"O"},{"x":-2.5,"y":1.8,"r":"N","l":"O"},{"x":-2.45,"y":2.1,"r":"N","l":"O"},{"x":-2.4,"y":1.3,"r":"N","l":"O"},{"x":-2.4,"y":1.65,"r":"N","l":"O"},{"x":-2.4,"y":1.0,"r":"N","l":"O"},{"x":-2.35,"y":1.9,"r":"N","l":"O"},{"x":-2.35,"y":0.85,"r":"N","l":"O"},{"x":-2.3,"y":1.45,"r":"N","l":"O"},{"x":-2.3,"y":2.2,"r":"N","l":"O"},{"x":-2.3,"y":1.15,"r":"N","l":"O"},{"x":-2.25,"y":1.7,"r":"N","l":"O"},{"x":-2.25,"y":2.0,"r":"N","l":"O"},{"x":-2.2,"y":1.3,"r":"N","l":"O"},{"x":-2.2,"y":0.95,"r":"N","l":"O"},{"x":-2.2,"y":1.55,"r":"N","l":"O"},{"x":-2.15,"y":2.25,"r":"N","l":"O"},{"x":-2.15,"y":1.85,"r":"N","l":"O"},{"x":-2.1,"y":1.1,"r":"N","l":"O"},{"x":-2.1,"y":1.45,"r":"N","l":"O"},{"x":-2.1,"y":2.1,"r":"N","l":"O"},{"x":-2.05,"y":1.7,"r":"N","l":"O"},{"x":-2.05,"y":0.8,"r":"N","l":"O"},{"x":-2.0,"y":1.3,"r":"N","l":"O"},{"x":-2.0,"y":1.95,"r":"N","l":"O"},{"x":-2.0,"y":2.3,"r":"N","l":"O"},{"x":-1.95,"y":1.55,"r":"N","l":"O"},{"x":-1.95,"y":1.0,"r":"N","l":"O"},{"x":-1.9,"y":1.8,"r":"N","l":"O"},{"x":-1.9,"y":2.15,"r":"N","l":"O"},{"x":-1.85,"y":1.25,"r":"N","l":"O"},{"x":-1.85,"y":0.85,"r":"N","l":"O"},{"x":-1.8,"y":1.6,"r":"N","l":"O"},{"x":-1.8,"y":2.0,"r":"N","l":"O"},{"x":-1.75,"y":1.05,"r":"N","l":"O"},{"x":-1.75,"y":2.3,"r":"N","l":"O"},{"x":-1.7,"y":1.4,"r":"N","l":"O"},{"x":-1.7,"y":1.8,"r":"N","l":"O"},{"x":-1.65,"y":0.95,"r":"N","l":"O"},{"x":-1.65,"y":2.1,"r":"N","l":"O"},{"x":-1.6,"y":1.55,"r":"N","l":"O"},{"x":-1.6,"y":1.2,"r":"N","l":"O"},{"x":-1.55,"y":1.9,"r":"N","l":"O"},{"x":-1.55,"y":0.85,"r":"N","l":"O"},{"x":-1.5,"y":1.4,"r":"N","l":"O"},{"x":-1.5,"y":1.7,"r":"N","l":"O"},{"x":-1.45,"y":2.0,"r":"N","l":"O"},{"x":-1.45,"y":1.1,"r":"N","l":"O"},{"x":-1.4,"y":1.55,"r":"N","l":"O"},{"x":-1.4,"y":1.25,"r":"N","l":"O"},{"x":-1.35,"y":1.8,"r":"N","l":"O"},{"x":-1.35,"y":1.4,"r":"N","l":"O"},{"x":-1.3,"y":1.6,"r":"N","l":"O"},{"x":-1.3,"y":1.15,"r":"N","l":"O"},
{"x":-2.75,"y":1.65,"r":"N","l":"O"},{"x":-2.65,"y":1.45,"r":"N","l":"O"},{"x":-2.55,"y":1.2,"r":"N","l":"O"},{"x":-2.55,"y":1.55,"r":"N","l":"O"},{"x":-2.45,"y":1.4,"r":"N","l":"O"},{"x":-2.45,"y":1.75,"r":"N","l":"O"},{"x":-2.45,"y":0.95,"r":"N","l":"O"},{"x":-2.35,"y":1.1,"r":"N","l":"O"},{"x":-2.35,"y":1.55,"r":"N","l":"O"},{"x":-2.35,"y":2.05,"r":"N","l":"O"},{"x":-2.25,"y":1.3,"r":"N","l":"O"},{"x":-2.25,"y":0.9,"r":"N","l":"O"},{"x":-2.25,"y":1.85,"r":"N","l":"O"},{"x":-2.15,"y":1.4,"r":"N","l":"O"},{"x":-2.15,"y":1.65,"r":"N","l":"O"},{"x":-2.15,"y":1.05,"r":"N","l":"O"},{"x":-2.05,"y":1.2,"r":"N","l":"O"},{"x":-2.05,"y":1.55,"r":"N","l":"O"},{"x":-2.05,"y":2.2,"r":"N","l":"O"},{"x":-2.05,"y":0.95,"r":"N","l":"O"},{"x":-1.95,"y":1.75,"r":"N","l":"O"},{"x":-1.95,"y":1.25,"r":"N","l":"O"},{"x":-1.95,"y":2.1,"r":"N","l":"O"},{"x":-1.85,"y":1.45,"r":"N","l":"O"},{"x":-1.85,"y":1.05,"r":"N","l":"O"},{"x":-1.85,"y":2.2,"r":"N","l":"O"},{"x":-1.75,"y":1.5,"r":"N","l":"O"},{"x":-1.75,"y":1.25,"r":"N","l":"O"},{"x":-1.75,"y":0.85,"r":"N","l":"O"},{"x":-1.75,"y":1.9,"r":"N","l":"O"},{"x":-1.65,"y":1.65,"r":"N","l":"O"},{"x":-1.65,"y":1.3,"r":"N","l":"O"},{"x":-1.65,"y":2.3,"r":"N","l":"O"},{"x":-1.55,"y":1.35,"r":"N","l":"O"},{"x":-1.55,"y":1.05,"r":"N","l":"O"},{"x":-1.55,"y":2.15,"r":"N","l":"O"},{"x":-1.45,"y":1.8,"r":"N","l":"O"},{"x":-1.45,"y":1.3,"r":"N","l":"O"},{"x":-1.35,"y":1.05,"r":"N","l":"O"},{"x":-1.35,"y":2.0,"r":"N","l":"O"},{"x":-2.85,"y":1.95,"r":"N","l":"O"},{"x":-2.6,"y":2.1,"r":"N","l":"O"},{"x":-2.9,"y":1.3,"r":"N","l":"O"},{"x":-2.85,"y":1.1,"r":"N","l":"O"},{"x":-2.7,"y":1.3,"r":"N","l":"O"},{"x":-2.55,"y":2.1,"r":"N","l":"O"},{"x":-2.3,"y":2.35,"r":"N","l":"O"},{"x":-2.2,"y":2.35,"r":"N","l":"O"},{"x":-1.9,"y":2.35,"r":"N","l":"O"},{"x":-1.55,"y":2.3,"r":"N","l":"O"},{"x":-2.2,"y":0.8,"r":"N","l":"O"},{"x":-1.95,"y":0.8,"r":"N","l":"O"},{"x":-1.7,"y":0.8,"r":"N","l":"O"},{"x":-1.25,"y":1.45,"r":"N","l":"O"},{"x":-1.25,"y":1.3,"r":"N","l":"O"},
{"x":-2.62,"y":1.58,"r":"N","l":"O"},{"x":-2.52,"y":1.33,"r":"N","l":"O"},{"x":-2.42,"y":1.52,"r":"N","l":"O"},{"x":-2.32,"y":1.28,"r":"N","l":"O"},{"x":-2.22,"y":1.78,"r":"N","l":"O"},{"x":-2.12,"y":1.22,"r":"N","l":"O"},{"x":-2.12,"y":1.95,"r":"N","l":"O"},{"x":-2.02,"y":1.42,"r":"N","l":"O"},{"x":-1.92,"y":1.38,"r":"N","l":"O"},{"x":-1.92,"y":1.15,"r":"N","l":"O"},{"x":-1.82,"y":1.72,"r":"N","l":"O"},{"x":-1.72,"y":1.62,"r":"N","l":"O"},{"x":-1.62,"y":1.42,"r":"N","l":"O"},{"x":-1.62,"y":1.8,"r":"N","l":"O"},{"x":-1.52,"y":1.55,"r":"N","l":"O"},{"x":-1.42,"y":1.68,"r":"N","l":"O"},
{"x":-1.75,"y":-3.25,"r":"O","l":"O"},{"x":-1.84,"y":-3.3,"r":"O","l":"O"},{"x":-2.06,"y":-3.53,"r":"O","l":"O"},{"x":-2.06,"y":-3.65,"r":"O","l":"O"},{"x":-2.01,"y":-3.75,"r":"O","l":"O"},{"x":-1.65,"y":-3.85,"r":"O","l":"O"},{"x":-2.85,"y":-3.66,"r":"O","l":"O"},{"x":-2.55,"y":-3.76,"r":"O","l":"O"},{"x":-2.65,"y":-3.81,"r":"O","l":"O"},{"x":-2.87,"y":-4.0,"r":"O","l":"O"},{"x":-2.35,"y":-3.9,"r":"O","l":"O"},{"x":-2.08,"y":-3.96,"r":"O","l":"O"},{"x":-2.17,"y":-4.0,"r":"O","l":"O"},{"x":-2.49,"y":-4.07,"r":"O","l":"O"},{"x":-1.96,"y":-4.08,"r":"O","l":"O"},{"x":-1.86,"y":-4.06,"r":"O","l":"O"},{"x":-1.82,"y":-4.15,"r":"O","l":"O"},{"x":-1.77,"y":-4.06,"r":"O","l":"O"},{"x":-2.02,"y":-4.34,"r":"O","l":"O"},{"x":-2.66,"y":-4.3,"r":"O","l":"O"},{"x":-2.99,"y":-4.41,"r":"O","l":"O"},{"x":-2.88,"y":-4.27,"r":"O","l":"O"},{"x":-1.86,"y":-4.59,"r":"O","l":"O"},{"x":-1.76,"y":-4.64,"r":"O","l":"O"},{"x":-1.93,"y":-4.79,"r":"O","l":"O"},{"x":-1.75,"y":-4.9,"r":"O","l":"O"},{"x":-1.97,"y":-4.96,"r":"O","l":"O"},{"x":-1.39,"y":-5.18,"r":"O","l":"O"},{"x":-3.29,"y":-4.63,"r":"O","l":"O"},{"x":-3.28,"y":-4.75,"r":"O","l":"O"},{"x":-3.12,"y":-4.87,"r":"O","l":"O"},{"x":-3.09,"y":-4.64,"r":"O","l":"O"},{"x":-2.96,"y":-5.11,"r":"O","l":"O"},{"x":-2.8,"y":-5.14,"r":"O","l":"O"},{"x":-2.68,"y":-5.09,"r":"O","l":"O"},{"x":-2.42,"y":-5.35,"r":"O","l":"O"},{"x":-2.12,"y":-5.25,"r":"O","l":"O"},{"x":-2.58,"y":-5.68,"r":"O","l":"O"},{"x":-2.35,"y":-4.16,"r":"O","l":"O"},{"x":-2.27,"y":-4.29,"r":"O","l":"O"},{"x":-2.18,"y":-4.47,"r":"O","l":"O"},{"x":-2.41,"y":-4.38,"r":"O","l":"O"},{"x":-2.52,"y":-4.56,"r":"O","l":"O"},{"x":-2.69,"y":-4.65,"r":"O","l":"O"},{"x":-2.84,"y":-4.51,"r":"O","l":"O"},{"x":-2.92,"y":-4.73,"r":"O","l":"O"},{"x":-2.81,"y":-4.87,"r":"O","l":"O"},{"x":-2.61,"y":-4.91,"r":"O","l":"O"},{"x":-2.41,"y":-4.73,"r":"O","l":"O"},{"x":-2.27,"y":-4.87,"r":"O","l":"O"},{"x":-2.35,"y":-5.09,"r":"O","l":"O"},{"x":-2.49,"y":-5.18,"r":"O","l":"O"},{"x":-2.18,"y":-5.09,"r":"O","l":"O"},{"x":-2.1,"y":-4.91,"r":"O","l":"O"},{"x":-2.98,"y":-4.6,"r":"O","l":"O"},{"x":-2.87,"y":-4.38,"r":"O","l":"O"},{"x":-2.55,"y":-4.25,"r":"O","l":"O"},{"x":-2.32,"y":-4.56,"r":"O","l":"O"},
{"x":-2.6,"y":-4.5,"r":"O","l":"O"},{"x":-2.7,"y":-4.8,"r":"O","l":"O"},{"x":-2.55,"y":-4.75,"r":"O","l":"O"},{"x":-2.5,"y":-4.95,"r":"O","l":"O"},{"x":-2.4,"y":-4.95,"r":"O","l":"O"},{"x":-2.3,"y":-4.7,"r":"O","l":"O"},{"x":-2.25,"y":-5.0,"r":"O","l":"O"},{"x":-2.35,"y":-5.25,"r":"O","l":"O"},{"x":-2.55,"y":-5.0,"r":"O","l":"O"},{"x":-2.8,"y":-4.7,"r":"O","l":"O"},{"x":-2.75,"y":-4.95,"r":"O","l":"O"},{"x":-2.45,"y":-4.45,"r":"O","l":"O"},{"x":-2.3,"y":-4.4,"r":"O","l":"O"},{"x":-2.2,"y":-4.3,"r":"O","l":"O"},{"x":-2.4,"y":-4.2,"r":"O","l":"O"},{"x":-2.25,"y":-4.15,"r":"O","l":"O"},{"x":-2.65,"y":-4.45,"r":"O","l":"O"},{"x":-2.95,"y":-4.45,"r":"O","l":"O"},{"x":-2.8,"y":-4.35,"r":"O","l":"O"},{"x":-3.0,"y":-4.85,"r":"O","l":"O"},{"x":-2.9,"y":-4.95,"r":"O","l":"O"},{"x":-2.1,"y":-4.75,"r":"O","l":"O"},{"x":-2.0,"y":-4.85,"r":"O","l":"O"},{"x":-2.1,"y":-4.5,"r":"O","l":"O"},{"x":-2.1,"y":-4.25,"r":"O","l":"O"},{"x":-2.6,"y":-5.2,"r":"O","l":"O"},
{"x":-2.75,"y":-4.03,"r":"E","l":"E"},{"x":-2.72,"y":-4.4,"r":"E","l":"E"},{"x":-2.66,"y":-4.49,"r":"E","l":"E"},{"x":-2.36,"y":-4.42,"r":"E","l":"E"},{"x":-2.23,"y":-4.62,"r":"E","l":"E"},{"x":-2.21,"y":-4.77,"r":"E","l":"E"},{"x":-2.48,"y":-4.85,"r":"E","l":"E"},{"x":-2.67,"y":-5.04,"r":"E","l":"E"},{"x":-3.03,"y":-5.16,"r":"E","l":"E"},{"x":-2.49,"y":-5.29,"r":"E","l":"E"},{"x":-2.22,"y":-5.23,"r":"E","l":"E"}
]},
"layer":[
{"transform":[{"filter":"datum.l==='E' && datum.r!=='E'"}],"mark":{"type":"point","filled":true,"opacity":1,"size":600},
"encoding":{"x":{"field":"x","type":"quantitative"},"y":{"field":"y","type":"quantitative"},
"color":{"field":"r","type":"nominal"},"shape":{"field":"l","type":"nominal"}}},
{"mark":{"type":"rule","color":"black","strokeWidth":2.6,"strokeDash":[9,6]},"encoding":{"x":{"datum":0,"type":"quantitative"}}},
{"mark":{"type":"rule","color":"black","strokeWidth":2.6,"strokeDash":[9,6]},"encoding":{"y":{"datum":0,"type":"quantitative"}}},
{"transform":[{"filter":"datum.l==='O'"}],"mark":{"type":"point","filled":true,"opacity":1,"size":361},
"encoding":{"x":{"field":"x","type":"quantitative"},"y":{"field":"y","type":"quantitative"},"color":{"field":"r","type":"nominal"},"shape":{"field":"l","type":"nominal"}}},
{"transform":[{"filter":"datum.r==='E'"}],"mark":{"type":"point","filled":true,"opacity":1,"size":600},
"encoding":{"x":{"field":"x","type":"quantitative","title":"PC 1","scale":{"domain":[-4.39,4.4],"nice":false,"zero":false},
"axis":{"values":[-4,-3,-2,-1,0,1,2,3,4],"labelExpr":"datum.value % 2 === 0 ? '' + datum.value : ''","labelOverlap":false,"labelFontSize":46,"labelColor":"#4D4D4D","labelPadding":2,"titleFontSize":57,"titleFontWeight":"normal","titleColor":"black","titlePadding":3,"domain":false,"tickSize":6,"tickWidth":1.5,"tickColor":{"condition":{"test":"datum.value % 2 !== 0","value":"transparent"},"value":"#333333"},"gridColor":"#EBEBEB","gridWidth":{"condition":{"test":"datum.value % 2 !== 0","value":1},"value":2}}},
"y":{"field":"y","type":"quantitative","title":"PC 2","scale":{"domain":[-6.59,6.59],"nice":false,"zero":false},
"axis":{"values":[-6,-4.5,-3,-1.5,0,1.5,3,4.5,6],"labelExpr":"datum.value % 3 === 0 ? '' + datum.value : ''","labelOverlap":false,"labelFontSize":46,"labelColor":"#4D4D4D","labelPadding":6,"titleFontSize":57,"titleFontWeight":"normal","titleColor":"black","titlePadding":8,"domain":false,"tickSize":6,"tickWidth":1.5,"tickColor":{"condition":{"test":"datum.value % 3 !== 0","value":"transparent"},"value":"#333333"},"gridColor":"#EBEBEB","gridWidth":{"condition":{"test":"datum.value % 3 !== 0","value":1},"value":2}}},
"color":{"field":"r","type":"nominal","scale":{"domain":["A","G","K","N","O","E"],"range":["#E69F00","#CC79A7","#56B4E9","#FF0000","#009E73","#00441B"]},
"legend":{"title":"Region","orient":"none","legendX":1061,"legendY":218,"titleFontSize":58,"titleFontWeight":"normal","titleColor":"black","titlePadding":27,"titleLimit":800,"labelFontSize":47,"labelLimit":800,"labelColor":"black","labelOffset":25,"rowPadding":-6,"clipHeight":44,"symbolSize":729,"symbolType":"circle","symbolStrokeWidth":0,"symbolOffset":-7,"labelExpr":"{'A':'Asia & Beringia','G':'Gulf of Alaska & Pacific Northwest','K':'Alaskan Arctic','N':'Norway','O':'Great Lakes Odd','E':'Great Lakes Even'}[datum.label]"}},
"shape":{"field":"l","type":"nominal","scale":{"domain":["O","E"],"range":["circle","triangle-up"]},
"legend":{"title":"Lineage","orient":"none","legendX":1061,"legendY":609,"titleFontSize":58,"titleFontWeight":"normal","titleColor":"black","titlePadding":27,"titleLimit":800,"labelFontSize":47,"labelLimit":800,"labelColor":"black","labelOffset":22,"rowPadding":-6,"clipHeight":44,"symbolSize":900,"symbolFillColor":"black","symbolStrokeWidth":0,"symbolOffset":-8,"labelExpr":"datum.label === 'O' ? 'Odd' : 'Even'"}}}}
]}
